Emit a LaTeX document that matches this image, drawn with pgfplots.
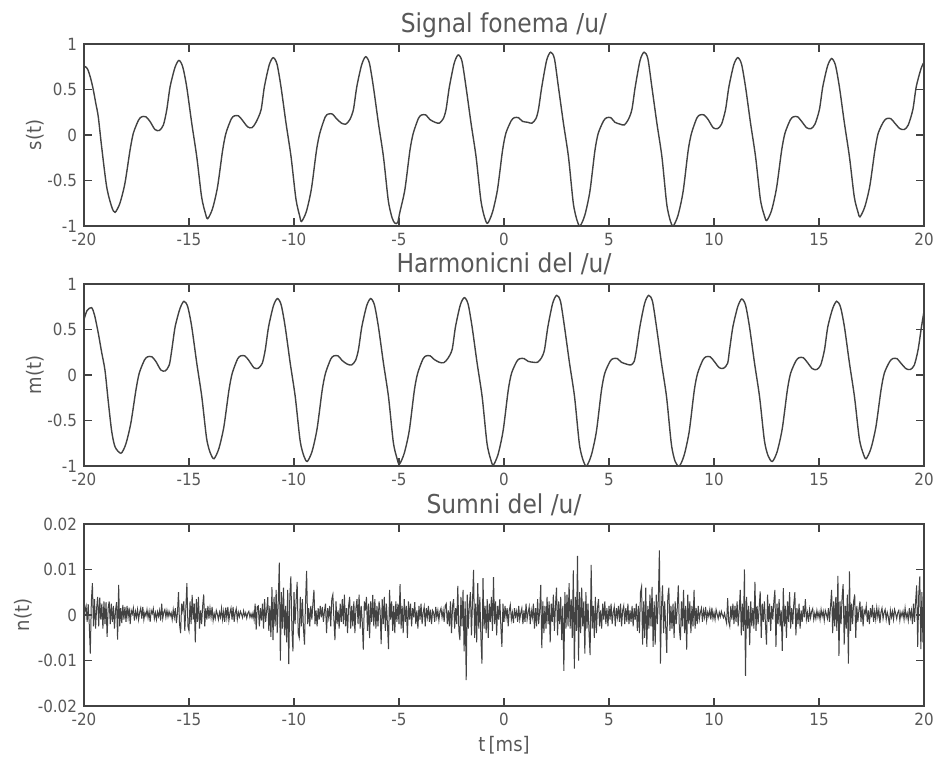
\documentclass[border=0pt]{standalone}
\usepackage{pgfplots}
\pgfplotsset{compat=1.18}
\usepackage{fontspec}
\setmainfont{DejaVu Sans Condensed}
\definecolor{ink}{RGB}{66,66,66}
\definecolor{txt}{RGB}{88,88,88}
\pgfplotsset{
  myax/.style={
    scale only axis, width=420pt, height=91pt,
    xmin=-20, xmax=20, xtick={-20,-15,-10,-5,0,5,10,15,20},
    tick align=inside, major tick length=4pt,
    axis line style={ink, line width=0.75pt},
    every tick/.style={ink, line width=0.6pt},
    tick label style={font=\fontsize{8.4}{10}\selectfont, text=txt},
    /pgf/number format/assume math mode=true,
    label style={font=\fontsize{10}{12}\selectfont, text=txt},
    every axis title/.style={at={(axis description cs:0.5,1)}, anchor=base, yshift=5.5pt, font=\fontsize{13}{15}\selectfont, text=txt},
    ylabel style={at={(axis description cs:-0.058,0.5)}, anchor=center},
    every axis plot/.append style={ink, line width=0.7pt},
  }
}
\begin{document}
\begin{tikzpicture}
\path[use as bounding box] (0,0) rectangle (467.5pt,380pt);
% ---------------- top ----------------
\begin{axis}[myax, at={(42pt,267pt)}, anchor=south west,
  ymin=-1, ymax=1, ytick={-1,-0.5,0,0.5,1},
  title={Signal fonema /u/}, ylabel={s(t)}]
\addplot[smooth, tension=0.45] coordinates {
(-20,0.74)(-19.93,0.75)(-19.82,0.72)(-19.68,0.62)(-19.56,0.50)(-19.44,0.35)(-19.32,0.20)(-19.16,-0.13)(-18.92,-0.57)(-18.68,-0.79)
(-18.52,-0.85)(-18.29,-0.75)(-18.05,-0.53)(-17.81,-0.17)(-17.65,0.02)(-17.40,0.165)(-17.25,0.20)(-17.05,0.20)(-16.86,0.15)(-16.62,0.06)(-16.41,0.05)(-16.22,0.11)(-16.06,0.275)(-15.90,0.53)(-15.67,0.74)(-15.48,0.82)(-15.30,0.75)(-15.11,0.53)(-14.87,0.13)(-14.63,-0.24)(-14.40,-0.68)(-14.22,-0.86)
(-14.11,-0.92)(-13.88,-0.81)(-13.64,-0.57)(-13.40,-0.17)(-13.24,0.02)(-12.99,0.175)(-12.84,0.21)(-12.64,0.21)(-12.45,0.16)(-12.21,0.09)(-12.00,0.08)(-11.81,0.14)(-11.57,0.275)(-11.41,0.53)(-11.18,0.77)(-10.99,0.85)(-10.81,0.78)(-10.62,0.53)(-10.38,0.13)(-10.14,-0.24)(-9.91,-0.70)(-9.73,-0.89)
(-9.64,-0.95)(-9.41,-0.84)(-9.17,-0.59)(-8.93,-0.17)(-8.77,0.02)(-8.52,0.195)(-8.37,0.23)(-8.17,0.23)(-7.98,0.18)(-7.74,0.13)(-7.53,0.12)(-7.34,0.17)(-7.17,0.28)(-7.01,0.53)(-6.78,0.77)(-6.59,0.86)(-6.41,0.79)(-6.22,0.53)(-5.98,0.13)(-5.74,-0.24)(-5.51,-0.72)(-5.33,-0.91)
(-5.19,-0.97)(-5.06,-0.96)(-4.96,-0.85)(-4.72,-0.60)(-4.48,-0.17)(-4.32,0.02)(-4.07,0.185)(-3.92,0.22)(-3.72,0.22)(-3.53,0.17)(-3.29,0.14)(-3.08,0.13)(-2.89,0.18)(-2.76,0.28)(-2.60,0.53)(-2.37,0.79)(-2.18,0.88)(-2.00,0.81)(-1.81,0.53)(-1.57,0.13)(-1.33,-0.24)(-1.10,-0.72)(-0.92,-0.91)
(-0.78,-0.97)(-0.55,-0.85)(-0.31,-0.60)(-0.07,-0.17)(0.09,0.02)(0.34,0.155)(0.49,0.19)(0.69,0.19)(0.88,0.15)(1.12,0.14)(1.33,0.13)(1.52,0.18)(1.64,0.28)(1.80,0.53)(2.03,0.82)(2.22,0.91)(2.40,0.84)(2.59,0.53)(2.83,0.13)(3.07,-0.24)(3.30,-0.75)(3.48,-0.94)
(3.62,-1.0)(3.85,-0.88)(4.09,-0.62)(4.33,-0.17)(4.49,0.02)(4.74,0.155)(4.89,0.19)(5.09,0.19)(5.28,0.14)(5.52,0.12)(5.73,0.11)(5.92,0.17)(6.09,0.28)(6.25,0.53)(6.48,0.82)(6.67,0.91)(6.85,0.84)(7.04,0.53)(7.28,0.13)(7.52,-0.24)(7.75,-0.76)(7.93,-0.95)
(8.06,-1.0)(8.29,-0.88)(8.53,-0.62)(8.77,-0.17)(8.93,0.02)(9.18,0.185)(9.33,0.22)(9.53,0.22)(9.72,0.17)(9.96,0.08)(10.17,0.07)(10.36,0.12)(10.55,0.28)(10.71,0.53)(10.94,0.77)(11.13,0.85)(11.31,0.78)(11.50,0.53)(11.74,0.13)(11.98,-0.24)(12.21,-0.71)(12.39,-0.88)
(12.51,-0.94)(12.74,-0.83)(12.98,-0.58)(13.22,-0.17)(13.38,0.02)(13.63,0.165)(13.78,0.20)(13.98,0.20)(14.17,0.15)(14.41,0.08)(14.62,0.07)(14.81,0.12)(15.02,0.28)(15.18,0.53)(15.41,0.76)(15.60,0.84)(15.78,0.77)(15.97,0.53)(16.21,0.13)(16.45,-0.24)(16.68,-0.68)(16.86,-0.85)
(16.95,-0.90)(17.18,-0.79)(17.42,-0.56)(17.66,-0.17)(17.82,0.02)(18.07,0.145)(18.22,0.18)(18.42,0.18)(18.61,0.13)(18.85,0.07)(19.06,0.06)(19.25,0.11)(19.47,0.28)(19.63,0.53)(19.86,0.73)(20.00,0.80)
};
\end{axis}
% ---------------- middle ----------------
\begin{axis}[myax, at={(42pt,147pt)}, anchor=south west,
  ymin=-1, ymax=1, ytick={-1,-0.5,0,0.5,1},
  title={Harmonicni del /u/}, ylabel={m(t)}]
\addplot[smooth, tension=0.45] coordinates {
(-20,0.61)(-19.85,0.71)(-19.64,0.74)(-19.50,0.66)(-19.32,0.46)(-19.16,0.25)(-19.00,0.05)(-18.84,-0.30)(-18.68,-0.62)(-18.52,-0.79)
(-18.24,-0.86)(-18.01,-0.76)(-17.77,-0.53)(-17.53,-0.17)(-17.37,0.02)(-17.12,0.165)(-16.97,0.20)(-16.77,0.20)(-16.58,0.15)(-16.34,0.055)(-16.13,0.045)(-15.94,0.11)(-15.82,0.275)(-15.66,0.53)(-15.43,0.73)(-15.24,0.81)(-15.06,0.75)(-14.87,0.53)(-14.63,0.13)(-14.39,-0.24)(-14.16,-0.70)(-13.98,-0.86)
(-13.81,-0.92)(-13.58,-0.81)(-13.34,-0.57)(-13.10,-0.17)(-12.94,0.02)(-12.69,0.175)(-12.54,0.21)(-12.34,0.21)(-12.15,0.16)(-11.91,0.08)(-11.70,0.074)(-11.51,0.13)(-11.37,0.275)(-11.21,0.53)(-10.98,0.76)(-10.79,0.84)(-10.61,0.77)(-10.42,0.53)(-10.18,0.13)(-9.94,-0.24)(-9.71,-0.72)(-9.53,-0.89)
(-9.37,-0.95)(-9.14,-0.84)(-8.90,-0.59)(-8.66,-0.17)(-8.50,0.02)(-8.25,0.175)(-8.10,0.21)(-7.90,0.21)(-7.71,0.16)(-7.47,0.12)(-7.26,0.11)(-7.07,0.16)(-6.93,0.28)(-6.77,0.53)(-6.54,0.76)(-6.35,0.84)(-6.17,0.77)(-5.98,0.53)(-5.74,0.13)(-5.50,-0.24)(-5.27,-0.74)(-5.09,-0.92)
(-4.98,-0.98)(-4.75,-0.86)(-4.51,-0.61)(-4.27,-0.17)(-4.11,0.02)(-3.86,0.175)(-3.71,0.21)(-3.51,0.21)(-3.32,0.17)(-3.08,0.14)(-2.87,0.135)(-2.68,0.18)(-2.47,0.28)(-2.31,0.53)(-2.08,0.77)(-1.89,0.85)(-1.71,0.78)(-1.52,0.53)(-1.28,0.13)(-1.04,-0.24)(-0.81,-0.75)(-0.63,-0.93)
(-0.51,-0.99)(-0.28,-0.87)(-0.04,-0.61)(0.20,-0.17)(0.36,0.02)(0.61,0.15)(0.76,0.18)(0.96,0.18)(1.15,0.15)(1.39,0.14)(1.60,0.14)(1.79,0.19)(1.93,0.28)(2.09,0.53)(2.32,0.79)(2.51,0.875)(2.69,0.81)(2.88,0.53)(3.12,0.13)(3.36,-0.24)(3.59,-0.76)(3.77,-0.94)
(3.93,-1.0)(4.16,-0.88)(4.40,-0.62)(4.64,-0.17)(4.80,0.02)(5.05,0.15)(5.20,0.18)(5.40,0.18)(5.59,0.14)(5.83,0.12)(6.04,0.11)(6.20,0.15)(6.31,0.28)(6.47,0.53)(6.70,0.79)(6.89,0.875)(7.07,0.81)(7.26,0.53)(7.50,0.13)(7.74,-0.24)(7.97,-0.76)(8.15,-0.95)
(8.35,-1.0)(8.58,-0.88)(8.82,-0.62)(9.06,-0.17)(9.22,0.02)(9.47,0.165)(9.62,0.20)(9.82,0.20)(10.01,0.15)(10.25,0.08)(10.46,0.074)(10.65,0.13)(10.74,0.275)(10.90,0.53)(11.13,0.75)(11.32,0.835)(11.50,0.77)(11.69,0.53)(11.93,0.13)(12.17,-0.24)(12.40,-0.72)(12.58,-0.89)
(12.78,-0.95)(13.01,-0.84)(13.25,-0.59)(13.49,-0.17)(13.65,0.02)(13.90,0.155)(14.05,0.19)(14.25,0.19)(14.44,0.14)(14.68,0.07)(14.89,0.06)(15.08,0.11)(15.26,0.275)(15.42,0.53)(15.65,0.73)(15.84,0.81)(16.02,0.75)(16.21,0.53)(16.45,0.13)(16.69,-0.24)(16.92,-0.70)(17.10,-0.86)
(17.24,-0.92)(17.47,-0.81)(17.71,-0.57)(17.95,-0.17)(18.11,0.02)(18.36,0.145)(18.51,0.18)(18.71,0.18)(18.90,0.13)(19.14,0.07)(19.35,0.06)(19.54,0.11)(19.72,0.28)(19.88,0.53)(20.00,0.70)
};
\end{axis}
% ---------------- bottom ----------------
\begin{axis}[myax, at={(42pt,27pt)}, anchor=south west,
  ymin=-0.02, ymax=0.02, ytick={-0.02,-0.01,0,0.01,0.02},
  scaled y ticks=false,
  yticklabel style={/pgf/number format/fixed, /pgf/number format/precision=2},
  title={Sumni del /u/}, ylabel={n(t)}, xlabel={t\,[ms]},
  ylabel style={at={(axis description cs:-0.072,0.5)}, anchor=center},
  xlabel style={at={(axis description cs:0.5,-0.214)}, anchor=center}]
\addplot[line width=0.5pt] coordinates {
(-20,-0.003)(-19.95,0.001)(-19.9,0.002)(-19.85,-0.0015)(-19.8,0.0024)(-19.75,-0.002)(-19.7,-0.0085)(-19.65,0.003)(-19.6,0.007)(-19.55,-0.0025)(-19.5,0.0035)(-19.45,-0.003)(-19.4,0.0015)(-19.35,0.004)(-19.3,-0.0025)(-19.25,0.0038)(-19.2,-0.001)(-19.15,0.0025)(-19.1,-0.003)(-19.05,0.003)
(-19,-0.002)(-18.95,0.0028)(-18.9,-0.0048)(-18.85,0.0015)(-18.8,0.003)(-18.75,-0.002)(-18.7,0.0025)(-18.65,-0.0015)(-18.6,0.002)(-18.55,-0.003)(-18.5,0.001)(-18.45,0.0028)(-18.4,-0.0054)(-18.35,0.0066)(-18.3,-0.0025)(-18.25,0.0015)(-18.2,-0.0018)(-18.15,0.0022)(-18.1,-0.001)(-18.05,0.0018)
(-18,-0.0015)(-17.95,0.002)(-17.9,-0.0005)(-17.85,0.0016)(-17.8,-0.002)(-17.75,0.001)(-17.7,0.0002)(-17.65,0.0015)(-17.6,-0.0012)(-17.55,0.0008)(-17.5,-0.0005)(-17.45,0.0012)(-17.4,-0.001)(-17.35,0.0006)(-17.3,0.0015)(-17.25,-0.0008)(-17.2,0.0018)(-17.15,-0.001)(-17.1,0.0005)(-17.05,-0.0002)
(-17,0.0012)(-16.95,-0.0006)(-16.9,0.0008)(-16.85,-0.0015)(-16.8,0.001)(-16.75,0.0003)(-16.7,0.0014)(-16.65,-0.0008)(-16.6,0.0005)(-16.55,-0.001)(-16.5,0.0007)(-16.45,-0.0003)(-16.4,0.001)(-16.35,-0.0012)(-16.3,0.0025)(-16.25,-0.0008)(-16.2,0.0006)(-16.15,0.0012)(-16.1,-0.0005)(-16.05,0.001)
(-16,-0.0004)(-15.95,0.0008)(-15.9,-0.0002)(-15.85,0.0005)(-15.8,-0.001)(-15.75,0.0012)(-15.7,-0.0005)(-15.65,0.0015)(-15.6,-0.0018)(-15.55,0.0005)(-15.5,0.005)(-15.45,-0.002)(-15.4,-0.004)(-15.35,0.0025)(-15.3,0.001)(-15.25,0.003)(-15.2,-0.0035)(-15.15,0.0015)(-15.1,0.007)(-15.05,-0.0025)
(-15,-0.0035)(-14.95,0.003)(-14.9,-0.002)(-14.85,0.0044)(-14.8,-0.001)(-14.75,0.0025)(-14.7,-0.006)(-14.65,0.0035)(-14.6,-0.0015)(-14.55,0.004)(-14.5,-0.003)(-14.45,0.001)(-14.4,-0.002)(-14.35,0.002)(-14.3,0.0045)(-14.25,-0.0025)(-14.2,0.0015)(-14.15,-0.001)(-14.1,0.002)(-14.05,-0.0008)
(-14,0.0015)(-13.95,-0.0005)(-13.9,0.0018)(-13.85,-0.0012)(-13.8,0.0003)(-13.75,-0.0008)(-13.7,0.001)(-13.65,0.0002)(-13.6,-0.001)(-13.55,0.0006)(-13.5,-0.0005)(-13.45,0.0015)(-13.4,-0.001)(-13.35,0.0008)(-13.3,-0.0015)(-13.25,0.0016)(-13.2,-0.0006)(-13.15,0.0018)(-13.1,-0.0012)(-13.05,0.0005)
(-13,0.0015)(-12.95,-0.001)(-12.9,0.0018)(-12.85,-0.0015)(-12.8,0.0005)(-12.75,0.0014)(-12.7,-0.001)(-12.65,0.0006)(-12.6,-0.0004)(-12.55,0.0008)(-12.5,0.0002)(-12.45,-0.0006)(-12.4,0.0009)(-12.35,-0.0002)(-12.3,0.0005)(-12.25,-0.0007)(-12.2,0.0004)(-12.15,0.0008)(-12.1,-0.0005)(-12.05,0.0003)
(-12,-0.0006)(-11.95,0.0005)(-11.9,-0.001)(-11.85,0.0025)(-11.8,-0.0032)(-11.75,0.0018)(-11.7,0.002)(-11.65,-0.0025)(-11.6,0.0015)(-11.55,-0.0012)(-11.5,0.0025)(-11.45,-0.003)(-11.4,0.0035)(-11.35,-0.0015)(-11.3,0.001)(-11.25,0.0039)(-11.2,-0.0035)(-11.15,0.002)(-11.1,-0.0048)(-11.05,0.0061)
(-11,-0.0055)(-10.95,0.004)(-10.9,-0.0025)(-10.85,0.0055)(-10.8,-0.004)(-10.75,0.003)(-10.7,0.0115)(-10.65,-0.01)(-10.6,0.005)(-10.55,-0.003)(-10.5,0.006)(-10.45,-0.0045)(-10.4,0.002)(-10.35,-0.006)(-10.3,0.0055)(-10.25,-0.0108)(-10.2,0.004)(-10.15,0.0085)(-10.1,-0.003)(-10.05,-0.008)
(-10,0.005)(-9.95,-0.002)(-9.9,0.003)(-9.85,0.0073)(-9.8,-0.004)(-9.75,-0.005)(-9.7,0.004)(-9.65,-0.0025)(-9.6,0.0035)(-9.55,-0.003)(-9.5,-0.0065)(-9.45,0.003)(-9.4,0.0097)(-9.35,-0.002)(-9.3,0.0015)(-9.25,-0.0025)(-9.2,0.002)(-9.15,-0.001)(-9.1,0.0025)(-9.05,0.0055)
(-9,-0.002)(-8.95,0.001)(-8.9,-0.0025)(-8.85,0.0015)(-8.8,-0.001)(-8.75,0.002)(-8.7,-0.0005)(-8.65,0.0018)(-8.6,-0.0015)(-8.55,0.0008)(-8.5,0.0025)(-8.45,-0.004)(-8.4,0.0015)(-8.35,-0.0005)(-8.3,0.002)(-8.25,-0.0025)(-8.2,0.0035)(-8.15,0.0045)(-8.1,-0.001)(-8.05,-0.0055)
(-8,0.003)(-7.95,-0.002)(-7.9,0.001)(-7.85,-0.003)(-7.8,0.0025)(-7.75,-0.0015)(-7.7,0.0035)(-7.65,-0.002)(-7.6,0.0045)(-7.55,-0.0025)(-7.5,0.0015)(-7.45,-0.004)(-7.4,0.002)(-7.35,0.004)(-7.3,-0.003)(-7.25,0.002)(-7.2,-0.0025)(-7.15,0.003)(-7.1,-0.004)(-7.05,0.0015)
(-7,0.0035)(-6.95,-0.002)(-6.9,0.0045)(-6.85,-0.003)(-6.8,0.002)(-6.75,-0.0015)(-6.7,-0.0076)(-6.65,0.003)(-6.6,0.001)(-6.55,0.004)(-6.5,-0.0035)(-6.45,0.0025)(-6.4,-0.0051)(-6.35,0.003)(-6.3,-0.0015)(-6.25,0.0044)(-6.2,-0.0025)(-6.15,0.0035)(-6.1,-0.003)(-6.05,0.002)
(-6,-0.0025)(-5.95,0.003)(-5.9,0.001)(-5.85,-0.0064)(-5.8,0.0035)(-5.75,-0.002)(-5.7,0.004)(-5.65,-0.0035)(-5.6,0.0025)(-5.55,-0.002)(-5.5,-0.0075)(-5.45,0.0055)(-5.4,-0.001)(-5.35,0.003)(-5.3,-0.0035)(-5.25,0.002)(-5.2,-0.004)(-5.15,0.003)(-5.1,-0.0015)(-5.05,0.0025)
(-5,-0.002)(-4.95,0.0068)(-4.9,-0.003)(-4.85,0.002)(-4.8,-0.004)(-4.75,0.0035)(-4.7,-0.0015)(-4.65,0.002)(-4.6,-0.005)(-4.55,0.003)(-4.5,-0.001)(-4.45,0.0025)(-4.4,-0.0025)(-4.35,0.0015)(-4.3,-0.0005)(-4.25,0.0028)(-4.2,-0.002)(-4.15,0.001)(-4.1,-0.003)(-4.05,0.002)
(-4,-0.001)(-3.95,0.0025)(-3.9,-0.002)(-3.85,0.0005)(-3.8,0.0018)(-3.75,-0.0025)(-3.7,0.0015)(-3.65,-0.0005)(-3.6,0.002)(-3.55,-0.0015)(-3.5,0.0012)(-3.45,-0.002)(-3.4,0.001)(-3.35,0.0005)(-3.3,-0.0015)(-3.25,0.0018)(-3.2,-0.0005)(-3.15,0.001)(-3.1,-0.0012)(-3.05,0.0008)
(-3,0.0015)(-2.95,-0.0005)(-2.9,0.001)(-2.85,-0.0015)(-2.8,0.002)(-2.75,0.0025)(-2.7,-0.002)(-2.65,0.001)(-2.6,-0.0025)(-2.55,0.003)(-2.5,-0.004)(-2.45,0.002)(-2.4,0.0035)(-2.35,-0.003)(-2.3,0.0015)(-2.25,-0.002)(-2.2,0.0064)(-2.15,-0.0035)(-2.1,-0.0055)(-2.05,0.004)
(-2,-0.0025)(-1.95,0.0055)(-1.9,-0.008)(-1.85,0.003)(-1.8,-0.0143)(-1.75,0.0045)(-1.7,-0.003)(-1.65,0.002)(-1.6,0.005)(-1.55,-0.0045)(-1.5,0.003)(-1.45,0.0099)(-1.4,-0.005)(-1.35,0.0025)(-1.3,-0.006)(-1.25,0.007)(-1.2,-0.003)(-1.15,0.004)(-1.1,-0.005)(-1.05,-0.0107)
(-1,0.0081)(-0.95,-0.003)(-0.9,0.002)(-0.85,-0.004)(-0.8,0.0035)(-0.75,-0.005)(-0.7,0.0025)(-0.65,-0.0015)(-0.6,0.004)(-0.55,-0.0035)(-0.5,0.0083)(-0.45,-0.002)(-0.4,0.003)(-0.35,-0.0045)(-0.3,0.002)(-0.25,-0.001)(-0.2,0.0035)(-0.15,-0.0025)(-0.1,-0.007)(-0.05,0.0025)
(0,-0.0015)(0.05,0.002)(0.1,-0.0005)(0.15,0.0015)(0.2,-0.0025)(0.25,0.001)(0.3,0.0022)(0.35,-0.001)(0.4,0.0005)(0.45,-0.0018)(0.5,0.0015)(0.55,-0.0003)(0.6,0.0008)(0.65,-0.0015)(0.7,0.002)(0.75,-0.001)(0.8,0.0005)(0.85,0.0015)(0.9,-0.002)(0.95,0.001)
(1,-0.0015)(1.05,0.0025)(1.1,-0.001)(1.15,0.0005)(1.2,0.0018)(1.25,-0.002)(1.3,0.001)(1.35,-0.0005)(1.4,0.0025)(1.45,-0.003)(1.5,0.0015)(1.55,-0.0025)(1.6,0.0035)(1.65,-0.002)(1.7,0.001)(1.75,0.0066)(1.8,-0.0073)(1.85,0.003)(1.9,-0.004)(1.95,0.002)
(2,-0.003)(2.05,0.004)(2.1,-0.002)(2.15,0.003)(2.2,-0.006)(2.25,0.0025)(2.3,-0.0015)(2.35,0.0045)(2.4,-0.0035)(2.45,0.002)(2.5,0.006)(2.55,-0.0045)(2.6,0.003)(2.65,-0.002)(2.7,0.004)(2.75,-0.0055)(2.8,0.002)(2.85,-0.0123)(2.9,0.005)(2.95,-0.003)
(3,0.0045)(3.05,-0.0025)(3.1,0.007)(3.15,-0.003)(3.2,0.0035)(3.25,-0.005)(3.3,0.0098)(3.35,-0.0118)(3.4,0.004)(3.45,-0.0035)(3.5,0.013)(3.55,-0.01)(3.6,0.005)(3.65,-0.004)(3.7,0.006)(3.75,-0.0025)(3.8,0.003)(3.85,-0.0085)(3.9,0.005)(3.95,-0.003)
(4,0.0025)(4.05,-0.004)(4.1,-0.0088)(4.15,0.011)(4.2,-0.003)(4.25,0.002)(4.3,-0.005)(4.35,0.004)(4.4,-0.004)(4.45,0.0015)(4.5,0.0035)(4.55,-0.0025)(4.6,0.001)(4.65,-0.003)(4.7,0.0025)(4.75,-0.001)(4.8,0.003)(4.85,-0.002)(4.9,0.0015)(4.95,-0.0025)
(5,0.002)(5.05,-0.001)(5.1,0.0025)(5.15,-0.002)(5.2,0.0005)(5.25,0.0018)(5.3,-0.0025)(5.35,0.0015)(5.4,-0.0005)(5.45,0.002)(5.5,-0.0015)(5.55,0.0025)(5.6,-0.0025)(5.65,0.001)(5.7,0.002)(5.75,-0.002)(5.8,0.0015)(5.85,-0.0015)(5.9,0.0025)(5.95,-0.002)
(6,0.001)(6.05,-0.0015)(6.1,0.002)(6.15,-0.0025)(6.2,0.0015)(6.25,-0.001)(6.3,0.0025)(6.35,-0.0035)(6.4,0.002)(6.45,-0.004)(6.5,0.005)(6.55,0.0062)(6.6,-0.0065)(6.65,0.003)(6.7,-0.005)(6.75,0.006)(6.8,-0.007)(6.85,0.002)(6.9,-0.003)(6.95,0.0045)
(7,-0.0025)(7.05,0.0062)(7.1,-0.007)(7.15,0.003)(7.2,-0.0065)(7.25,0.0045)(7.3,-0.002)(7.35,0.0035)(7.4,0.0142)(7.45,-0.0107)(7.5,0.002)(7.55,0.0065)(7.6,-0.004)(7.65,0.003)(7.7,-0.0025)(7.75,-0.0083)(7.8,0.004)(7.85,0.006)(7.9,-0.0035)(7.95,0.002)
(8,-0.003)(8.05,0.0025)(8.1,-0.005)(8.15,0.003)(8.2,-0.002)(8.25,0.0015)(8.3,0.0065)(8.35,-0.003)(8.4,-0.0055)(8.45,0.003)(8.5,-0.0025)(8.55,0.0055)(8.6,-0.004)(8.65,0.002)(8.7,-0.0076)(8.75,0.0045)(8.8,-0.002)(8.85,0.003)(8.9,-0.004)(8.95,0.002)
(9,-0.0025)(9.05,0.0055)(9.1,-0.003)(9.15,0.0015)(9.2,-0.002)(9.25,0.002)(9.3,-0.001)(9.35,0.0005)(9.4,0.0015)(9.45,-0.0015)(9.5,0.001)(9.55,-0.0005)(9.6,0.0018)(9.65,-0.0012)(9.7,0.0006)(9.75,-0.0003)(9.8,0.0012)(9.85,-0.001)(9.9,0.0016)(9.95,-0.0008)
(10,0.0005)(10.05,-0.001)(10.1,0.0012)(10.15,0.0002)(10.2,-0.0008)(10.25,0.0006)(10.3,-0.0004)(10.35,0.0008)(10.4,0)(10.45,-0.0006)(10.5,0.0004)(10.55,-0.0008)(10.6,-0.0018)(10.65,0.0037)(10.7,-0.0015)(10.75,-0.0025)(10.8,0.002)(10.85,-0.001)(10.9,0.0025)(10.95,-0.002)
(11,0.002)(11.05,-0.0015)(11.1,0.003)(11.15,-0.0025)(11.2,0.001)(11.25,0.0055)(11.3,-0.0045)(11.35,0.0025)(11.4,-0.0035)(11.45,0.01)(11.5,-0.0134)(11.55,0.004)(11.6,-0.003)(11.65,0.002)(11.7,-0.0066)(11.75,0.003)(11.8,-0.0025)(11.85,0.0015)(11.9,-0.003)(11.95,0.0073)
(12,-0.0035)(12.05,0.002)(12.1,-0.002)(12.15,0.0015)(12.2,0.0052)(12.25,-0.005)(12.3,0.0025)(12.35,-0.0015)(12.4,0.003)(12.45,-0.002)(12.5,-0.0065)(12.55,0.0045)(12.6,-0.0015)(12.65,0.0025)(12.7,-0.0035)(12.75,0.002)(12.8,-0.001)(12.85,0.003)(12.9,0.0055)(12.95,-0.007)
(13,0.0025)(13.05,-0.002)(13.1,0.0035)(13.15,-0.0025)(13.2,0.001)(13.25,-0.0079)(13.3,0.0059)(13.35,-0.0025)(13.4,0.002)(13.45,-0.005)(13.5,0.003)(13.55,-0.0015)(13.6,0.005)(13.65,-0.003)(13.7,0.0015)(13.75,-0.002)(13.8,0.0025)(13.85,0.005)(13.9,-0.0045)(13.95,0.0015)
(14,-0.002)(14.05,0.0025)(14.1,-0.003)(14.15,0.001)(14.2,-0.0015)(14.25,0.002)(14.3,-0.0005)(14.35,0.0035)(14.4,-0.001)(14.45,0.0005)(14.5,-0.0015)(14.55,0.0012)(14.6,-0.0006)(14.65,0.0008)(14.7,0.0014)(14.75,-0.001)(14.8,0.0004)(14.85,-0.0008)(14.9,0.001)(14.95,-0.0005)
(15,0.0006)(15.05,-0.001)(15.1,0.0012)(15.15,-0.0003)(15.2,0.0008)(15.25,-0.0012)(15.3,0.001)(15.35,0.0002)(15.4,-0.0008)(15.45,0.0015)(15.5,-0.0015)(15.55,0.002)(15.6,0.0055)(15.65,-0.004)(15.7,0.003)(15.75,-0.0025)(15.8,0.004)(15.85,-0.0035)(15.9,0.0086)(15.95,-0.009)
(16,0.003)(16.05,-0.002)(16.1,0.004)(16.15,0.0068)(16.2,-0.0065)(16.25,0.002)(16.3,-0.003)(16.35,0.0045)(16.4,-0.0107)(16.45,0.0096)(16.5,-0.0035)(16.55,0.0025)(16.6,-0.002)(16.65,0.003)(16.7,0.0045)(16.75,-0.005)(16.8,0.002)(16.85,-0.0015)(16.9,0.001)(16.95,0.003)
(17,-0.0015)(17.05,0.002)(17.1,-0.0025)(17.15,0.001)(17.2,0.0003)(17.25,0.002)(17.3,-0.0015)(17.35,0.001)(17.4,-0.002)(17.45,0.0015)(17.5,-0.0005)(17.55,0.0022)(17.6,-0.0015)(17.65,0.0008)(17.7,-0.001)(17.75,0.0016)(17.8,-0.0004)(17.85,0.0012)(17.9,-0.0018)(17.95,0.0006)
(18,0.0015)(18.05,-0.0008)(18.1,0.0005)(18.15,0.0012)(18.2,-0.001)(18.25,0.0006)(18.3,-0.0004)(18.35,-0.0022)(18.4,0.001)(18.45,-0.0005)(18.5,0.0008)(18.55,-0.001)(18.6,0.0012)(18.65,0.0003)(18.7,-0.0008)(18.75,0.0005)(18.8,0.001)(18.85,-0.0012)(18.9,0.0006)(18.95,-0.0003)
(19,0.0008)(19.05,-0.001)(19.1,0.0015)(19.15,-0.0006)(19.2,0.0004)(19.25,-0.0012)(19.3,0.0015)(19.35,-0.0005)(19.4,0.001)(19.45,-0.002)(19.5,0.0025)(19.55,-0.0015)(19.6,0.003)(19.65,0.0065)(19.7,-0.007)(19.75,0.0045)(19.8,0.0085)(19.85,-0.0075)(19.9,0.005)(19.95,-0.006)(20,0.009)
};
\end{axis}
\end{tikzpicture}
\end{document}
